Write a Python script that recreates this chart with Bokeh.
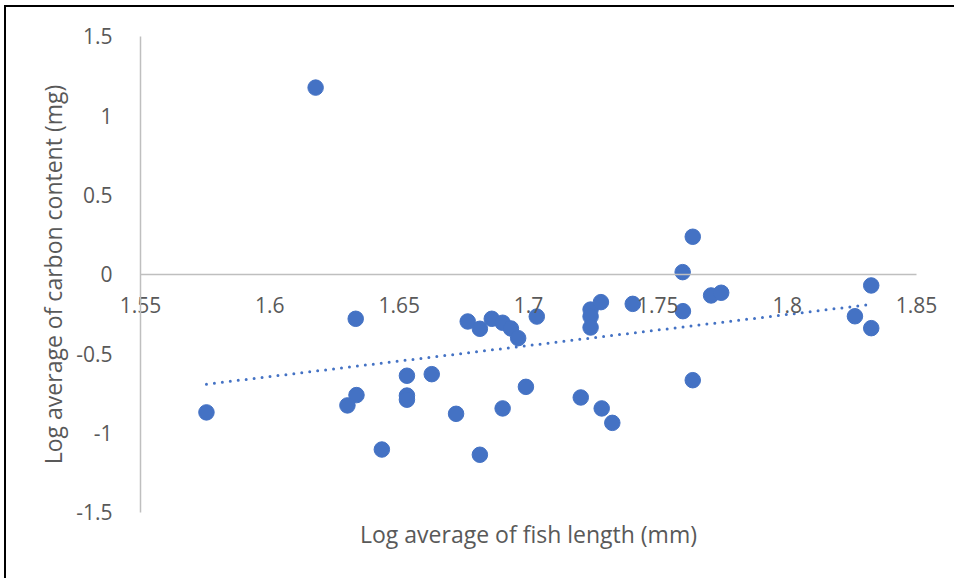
import numpy as np
from bokeh.plotting import figure
from bokeh.models import Range1d, LinearAxis, FixedTicker
from bokeh.embed import file_html
from bokeh.resources import INLINE

# Data (log fish length mm, log carbon content mg)
fish_length_log = [1.5755, 1.6177, 1.6332, 1.6335, 1.6300, 1.6433, 1.6530, 1.6530, 1.6530,
                   1.6626, 1.6720, 1.6812, 1.6765, 1.6812, 1.6858, 1.6900, 1.6932, 1.6960,
                   1.7032, 1.7240, 1.7240, 1.7240, 1.7280, 1.7403, 1.7597, 1.7706, 1.7745,
                   1.7596, 1.7635, 1.8325, 1.8262, 1.8325, 1.6990, 1.6900, 1.7202, 1.7283,
                   1.7324, 1.7635]
carbon_log = [-0.871, 1.176, -0.281, -0.762, -0.827, -1.105, -0.640, -0.765, -0.791,
              -0.630, -0.880, -1.138, -0.298, -0.344, -0.281, -0.306, -0.342, -0.403,
              -0.267, -0.223, -0.267, -0.336, -0.176, -0.187, -0.233, -0.134, -0.117,
              0.013, 0.236, -0.071, -0.265, -0.340, -0.710, -0.846, -0.777, -0.846,
              -0.937, -0.668]

x_ticks = [1.55, 1.6, 1.65, 1.7, 1.75, 1.8, 1.85]
x_tick_labels = ["1.55", "1.6", "1.65", "1.7", "1.75", "1.8", "1.85"]
y_ticks = [-1.5, -1.0, -0.5, 0.0, 0.5, 1.0, 1.5]
y_tick_labels = ["-1.5", "-1", "-0.5", "0", "0.5", "1", "1.5"]

x_title = "Log average of fish length (mm)"
y_title = "Log average of carbon content (mg)"

FONT = "Open Sans"
TXT = "#595959"
AXC = "#BFBFBF"
BLUE = "#4472C4"

# axis extents, and layout geometry in page pixels
X0, X1 = x_ticks[0], x_ticks[-1]
Y0, Y1 = y_ticks[0], y_ticks[-1]
AX_LEFT, AX_RIGHT, AX_TOP, AX_BOTTOM = 140.0, 916.0, 35.7, 511.7   # axis box
FR_LEFT, FR_RIGHT, FR_TOP, FR_BOTTOM = 30, 950, 10, 570            # frame
OFF_X, OFF_Y = 6, 7                                                # canvas offset on page
CW, CH = 950, 573

sx = (AX_RIGHT - AX_LEFT) / (X1 - X0)
sy = (AX_BOTTOM - AX_TOP) / (Y1 - Y0)
x_range = Range1d(X0 - (AX_LEFT - FR_LEFT) / sx, X1 + (FR_RIGHT - AX_RIGHT) / sx)
y_range = Range1d(Y0 - (FR_BOTTOM - AX_BOTTOM) / sy, Y1 + (AX_TOP - FR_TOP) / sy)

p = figure(width=CW, height=CH, x_range=x_range, y_range=y_range,
           output_backend="svg", toolbar_location=None,
           x_axis_location=None, y_axis_location=None,
           min_border_left=FR_LEFT - OFF_X, min_border_right=OFF_X + CW - FR_RIGHT,
           min_border_top=FR_TOP - OFF_Y, min_border_bottom=OFF_Y + CH - FR_BOTTOM)
p.styles = {"border-top": "2px solid black", "border-left": "2px solid black",
            "margin-left": "4px", "margin-top": "5px"}
p.grid.visible = False
p.outline_line_color = None
p.background_fill_color = "white"
p.border_fill_color = "white"


def style_ticks(ax, standoff):
    ax.axis_line_color = AXC
    ax.axis_line_width = 1.5
    ax.major_tick_line_color = None
    ax.minor_tick_line_color = None
    ax.major_label_standoff = standoff
    ax.major_label_text_font = FONT
    ax.major_label_text_font_size = "21px"
    ax.major_label_text_color = TXT


def style_title(ax, label, standoff):
    ax.axis_label = label
    ax.axis_label_text_font = FONT
    ax.axis_label_text_font_size = "23px"
    ax.axis_label_text_font_style = "normal"
    ax.axis_label_text_color = TXT
    ax.axis_label_standoff = standoff


# vertical axis at x = 1.55, with its title
ya = LinearAxis(fixed_location=X0, bounds=(Y0, Y1), ticker=FixedTicker(ticks=y_ticks),
                major_label_overrides={t: l for t, l in zip(y_ticks, y_tick_labels)})
style_ticks(ya, 22)
style_title(ya, y_title, 4)
p.add_layout(ya, "left")

# horizontal axis crossing at y = 0
xa = LinearAxis(fixed_location=0, bounds=(X0, X1), ticker=FixedTicker(ticks=x_ticks),
                major_label_overrides={t: l for t, l in zip(x_ticks, x_tick_labels)})
style_ticks(xa, 17)
p.add_layout(xa, "below")

# horizontal axis title under the plot area
xt = LinearAxis(fixed_location=Y0, bounds=(X0, X1), ticker=FixedTicker(ticks=[]))
xt.axis_line_color = None
xt.major_tick_line_color = None
xt.minor_tick_line_color = None
xt.major_label_standoff = 0
style_title(xt, x_title, 5)
p.add_layout(xt, "below")

# points
p.scatter(fish_length_log, carbon_log, size=15.5, color=BLUE)

# linear trendline (least squares from the data)
coef = np.polyfit(fish_length_log, carbon_log, 1)
tx = [min(fish_length_log), max(fish_length_log)]
ty = list(np.polyval(coef, tx))
p.line(tx, ty, line_color=BLUE, line_width=3, line_dash="0 8", line_cap="round")

open("out.html", "w").write(file_html(p, INLINE))
